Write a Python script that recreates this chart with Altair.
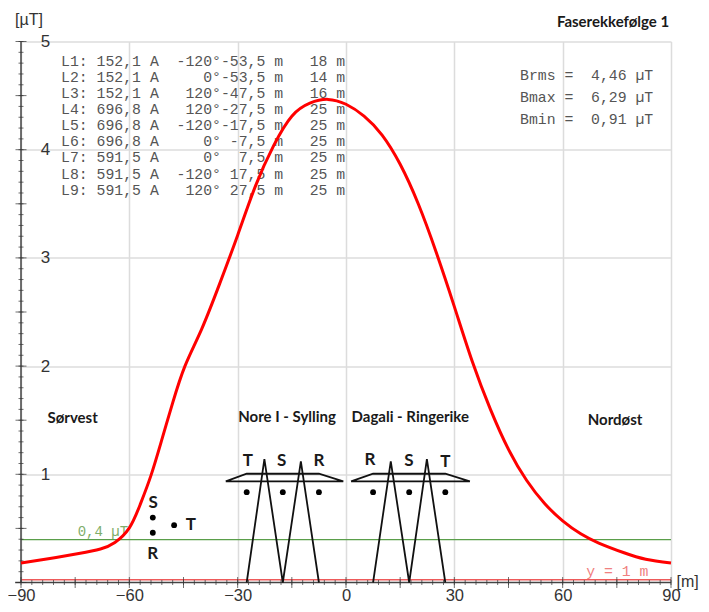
import altair as alt
import pandas as pd

curve_x = [-90,-82,-74,-68,-64,-60,-57,-54,-51,-48,-44.6,-40,-35,-30,-25,-20,-15,-10,-5,0,5,10,15,20,25,30,35,40,45,50,55,60,65,70,77,83,90]
curve_y = [.18,.222,.268,.31,.37,.505,.72,.99,1.32,1.66,2.0,2.34,2.76,3.21,3.67,4.04,4.31,4.43,4.465,4.42,4.31,4.135,3.865,3.50,3.05,2.55,2.04,1.60,1.23,.945,.73,.57,.45,.365,.275,.215,.18]

x_labels = [-90,-60,-30,0,30,60,90]
y_labels = [1,2,3,4,5]
x_major = list(range(-90,91,15))
x_minor = list(range(-90,91,3))
y_major = [0,.5,1,1.5,2,2.5,3,3.5,4,4.5,5]
y_minor = [i/10 for i in range(0,51)]

table_rows = [
 "L1: 152,1 A  -120°-53,5 m   18 m",
 "L2: 152,1 A     0°-53,5 m   14 m",
 "L3: 152,1 A   120°-47,5 m   16 m",
 "L4: 696,8 A   120°-27,5 m   25 m",
 "L5: 696,8 A  -120°-17,5 m   25 m",
 "L6: 696,8 A     0° -7,5 m   25 m",
 "L7: 591,5 A     0°  7,5 m   25 m",
 "L8: 591,5 A  -120° 17,5 m   25 m",
 "L9: 591,5 A   120° 27,5 m   25 m",
]
table_y = [4.815,4.665,4.515,4.367,4.218,4.068,3.919,3.769,3.62]
stats_rows = ["Brms =  4,46 µT","Bmax =  6,29 µT","Bmin =  0,91 µT"]
stats_y = [4.677,4.477,4.276]

section_text = ["Sørvest","Nore I - Sylling","Dagali - Ringerike","Nordøst"]
section_x = [-75.7,-16.3,17.8,74.5]
section_y = [1.519,1.529,1.525,1.505]

phase_text = ["T","S","R","R","S","T","S","R","T"]
phase_x = [-27.2,-17.8,-7.5,6.65,17.45,27.5,-53.4,-53.5,-43.0]
phase_y = [1.125,1.125,1.125,1.134,1.125,1.116,.734,.262,.533]

dots_x = [-27.5,-17.5,-7.5,7.5,17.5,27.5,-53.5,-53.5,-47.6]
dots_y = [.835,.835,.835,.835,.835,.835,.6,.46,.53]

tower_parts = {
 "mast1": ([-27.5,-22.6,-17.5,-12.5,-7.5],[0,1.14,0,1.12,0]),
 "mast2": ([7.5,12.4,17.5,22.4,27.5],[0,1.12,0,1.14,0]),
 "arm1": ([-33.3,-27.5,-7.5,-0.75,-33.3],[.935,1.005,1.005,.935,.935]),
 "arm2": ([1.4,7.5,27.5,34.3,1.4],[.935,1.005,1.005,.935,.935]),
}

xs = alt.Scale(domain=[-90,90], nice=False, zero=False)
ys = alt.Scale(domain=[0,5], nice=False, zero=False)
x_axis = alt.Axis(values=x_labels, grid=True, gridColor="#dcdcdc", gridWidth=1.5, domain=False, ticks=False,
                  labelFontSize=16.5, labelFont="Liberation Sans", labelColor="#333333", labelPadding=13,
                  labelFlush=False, labelBaseline="middle", labelAngle=0, labelOverlap=False, title=None)
y_axis = alt.Axis(values=y_labels, grid=True, gridColor="#dcdcdc", gridWidth=1.5, domain=False, ticks=False,
                  labelFontSize=17, labelFont="Liberation Sans", labelColor="#333333", labelPadding=-24,
                  labelAlign="center", labelBaseline="middle", labelFlush=False, labelOverlap=False, title=None)

def X(f):
    return alt.X(f, type="quantitative", scale=xs, axis=x_axis)
def Y(f):
    return alt.Y(f, type="quantitative", scale=ys, axis=y_axis)
def XD(v):
    return alt.X(datum=v, type="quantitative", scale=xs, axis=x_axis)
def YD(v):
    return alt.Y(datum=v, type="quantitative", scale=ys, axis=y_axis)

def df(**k):
    return pd.DataFrame(k)

def hline(v, c, w):
    return alt.Chart(df(y=[v])).mark_rule(color=c, strokeWidth=w).encode(y=Y("y"), x=XD(-90), x2=alt.X2(datum=90))

green = hline(.397, "#5a9e4a", 1.3)
redln = hline(.025, "#ee5a5a", 1.5)

x_axis_line = alt.Chart(df(y=[0])).mark_rule(color="#444444", strokeWidth=1.5).encode(
    y=Y("y"), x=XD(-91.6), x2=alt.X2(datum=90))
y_axis_line = alt.Chart(df(x=[-90])).mark_rule(color="#444444", strokeWidth=1.5).encode(
    x=X("x"), y=YD(0), y2=alt.Y2(datum=5))

def xticks(vals, size):
    return alt.Chart(df(x=vals)).mark_tick(orient="vertical", size=size, thickness=1, color="#333333").encode(x=X("x"), y=YD(0))
def yticks(vals, size):
    return alt.Chart(df(y=vals)).mark_tick(orient="horizontal", size=size, thickness=1, color="#333333").encode(y=Y("y"), x=XD(-90))

tower_frames = []
for part, (tx, ty) in tower_parts.items():
    tower_frames.append(pd.DataFrame({"part": part, "x": tx, "y": ty, "o": range(len(tx))}))
towers = alt.Chart(pd.concat(tower_frames)).mark_line(color="#111111", strokeWidth=1.8).encode(
    x=X("x"), y=Y("y"), detail="part:N", order="o:Q")

dots = alt.Chart(df(x=dots_x, y=dots_y)).mark_circle(color="black", size=34, opacity=1).encode(x=X("x"), y=Y("y"))

curve = alt.Chart(df(x=curve_x, y=curve_y)).mark_line(color="#ff0000", strokeWidth=3, interpolate="natural").encode(x=X("x"), y=Y("y"))

def text(x, y, t, font, size, color, weight="normal", align="left"):
    t = [s.replace(" ", "\u00a0") for s in t]
    return alt.Chart(df(x=x, y=y, t=t)).mark_text(
        font=font, fontSize=size, color=color, fontWeight=weight, align=align, baseline="middle", clip=False
    ).encode(x=X("x"), y=Y("y"), text="t:N")

mono = "Liberation Mono"
sans = "Liberation Sans"
bold = "Lato"
texts = [
    text([-78.9]*9, table_y, table_rows, mono, 14.8, "#555555"),
    text([48.2]*3, stats_y, stats_rows, mono, 14.8, "#555555"),
    text([-74.3], [.47], ["0,4 µT"], mono, 14, "#7fae6a"),
    text([66.5], [.096], ["y = 1 m"], mono, 14.8, "#f08080"),
    text(section_x, section_y, section_text, bold, 15, "#1a1a1a", "bold", "center"),
    text(phase_x, phase_y, phase_text, bold, 17, "#1a1a1a", "bold", "center"),
    text([89.5], [5.176], ["Faserekkefølge 1"], bold, 15, "#1a1a1a", "bold", "right"),
    text([-87.8], [5.2], ["[µT]"], sans, 16, "#333333", "normal", "center"),
    text([94.6], [.006], ["[m]"], sans, 16, "#333333", "normal", "center"),
]

chart = alt.layer(
    green, redln, x_axis_line, y_axis_line,
    xticks(x_minor, 5), xticks(x_major, 11), yticks(y_minor, 5), yticks(y_major, 11),
    *texts, towers, dots, curve,
).properties(
    width=650, height=541,
    autosize=alt.AutoSizeParams(type="none"),
    padding={"left": 13, "top": 33.5, "right": 30, "bottom": 21.5},
).configure_view(stroke=None)

chart.save("out.html", embed_options={"renderer": "svg", "actions": False})
